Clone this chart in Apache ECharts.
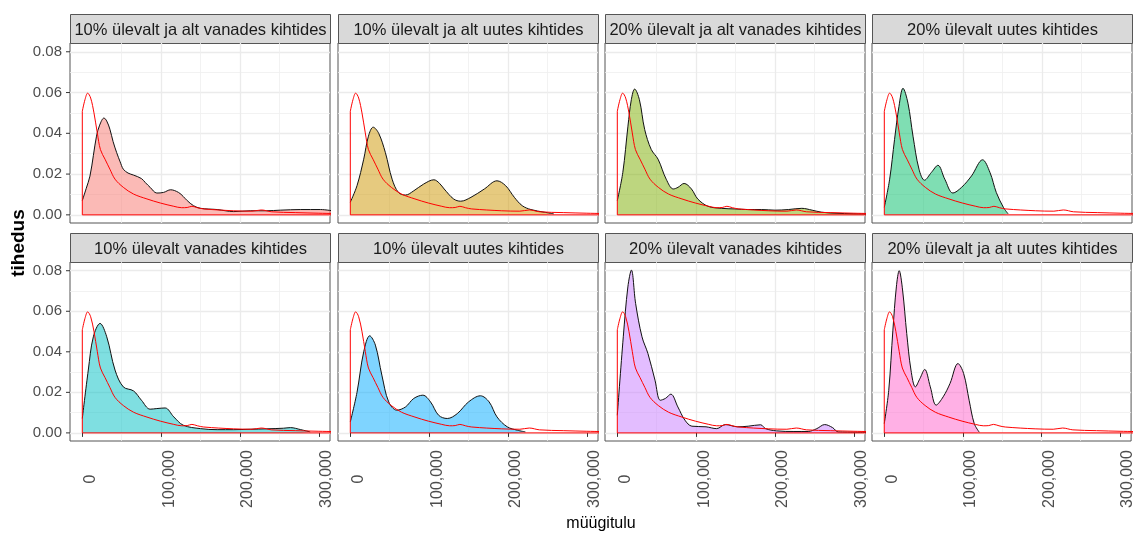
<!DOCTYPE html>
<html><head><meta charset="utf-8">
<script src="https://cdn.jsdelivr.net/npm/echarts@6/dist/echarts.min.js"></script>
<style>html,body{margin:0;padding:0;background:#fff}#c{width:1136px;height:533px}</style>
</head><body><div id="c"></div>
<script>
// ---------- DATA ----------
const panelTitles = [
  "10% ülevalt ja alt vanades kihtides",
  "10% ülevalt ja alt uutes kihtides",
  "20% ülevalt ja alt vanades kihtides",
  "20% ülevalt uutes kihtides",
  "10% ülevalt vanades kihtides",
  "10% ülevalt uutes kihtides",
  "20% ülevalt vanades kihtides",
  "20% ülevalt ja alt uutes kihtides"
];
const xTickValues = [0, 100000, 200000, 300000];
const yTickValues = [0, 0.02, 0.04, 0.06, 0.08];
const xTitle = "müügitulu";
const yTitle = "tihedus";

// reference density (red outline, same in every panel)
const refCurve = [[0,0.0508],[3400,0.0565],[6800,0.0597],[10600,0.0573],[14800,0.050],[19000,0.0402],[23000,0.032],[28800,0.0273],[35000,0.0224],[41500,0.0175],[52000,0.0135],[65000,0.0102],[82000,0.0078],[99000,0.0058],[116000,0.0042],[126000,0.0035],[133000,0.0036],[139000,0.0042],[146000,0.0035],[154000,0.0029],[192000,0.002],[215000,0.0018],[227000,0.0024],[240000,0.0015],[270000,0.0011],[300000,0.0008],[330000,0.0006]];
const refBase = [[0,0.0508],[0,0],[330000,0]];

const dens1 = [[0,0.007],[5000,0.013],[9700,0.019],[14000,0.029],[18000,0.0386],[22000,0.044],[27500,0.0475],[31000,0.046],[35000,0.042],[39000,0.036],[43600,0.0305],[48000,0.026],[52000,0.0224],[58000,0.0205],[65000,0.0195],[75000,0.0178],[80000,0.0158],[86000,0.0135],[94500,0.0107],[103000,0.011],[112000,0.0123],[122000,0.011],[128000,0.009],[133000,0.007],[141000,0.0045],[150000,0.0032],[171000,0.0026],[192000,0.0016],[213000,0.002],[234000,0.002],[251000,0.0023],[277000,0.0026],[302000,0.0026],[320000,0.0018]];
const dens2 = [[0,0.0062],[8500,0.0143],[17000,0.0273],[23000,0.0386],[29000,0.043],[36000,0.040],[44500,0.0305],[53000,0.0175],[61000,0.011],[70000,0.0097],[80500,0.0118],[93000,0.0151],[106000,0.0172],[113000,0.0155],[119000,0.0127],[131000,0.0078],[140000,0.0067],[153000,0.0086],[170000,0.0127],[186000,0.0167],[197000,0.0143],[208000,0.0086],[218000,0.0045],[229000,0.0026],[246000,0.0013],[258000,0.0005]];
const dens3 = [[0,0.007],[7000,0.0208],[13500,0.0435],[17800,0.0565],[22000,0.0617],[28000,0.0565],[34700,0.0419],[43000,0.0321],[51700,0.0273],[62000,0.0175],[71000,0.0127],[77000,0.0135],[84700,0.0154],[94000,0.0127],[102000,0.0078],[115000,0.0042],[132000,0.0032],[149000,0.0029],[166000,0.0026],[183000,0.0026],[200000,0.0023],[217000,0.0026],[234000,0.0032],[247000,0.0023],[259000,0.0013],[276000,0.0008],[300000,0.0005],[320000,0.0004]];
const dens4 = [[0,0.0037],[6800,0.0175],[13000,0.037],[18600,0.0532],[23700,0.0621],[30000,0.0548],[36400,0.0386],[44000,0.0224],[51000,0.017],[59700,0.0208],[68000,0.0243],[76700,0.0175],[87000,0.0107],[98000,0.0135],[110600,0.0191],[124600,0.027],[134000,0.0208],[142000,0.011],[151000,0.0037],[157000,0.0005]];
const dens5 = [[0,0.0071],[7600,0.031],[14000,0.0474],[22500,0.054],[31000,0.0474],[41500,0.031],[52000,0.0227],[65000,0.0207],[75000,0.0161],[86000,0.0117],[94500,0.012],[105000,0.0123],[116000,0.0079],[128000,0.0038],[150000,0.0021],[171000,0.0016],[192000,0.0016],[213000,0.0018],[234000,0.002],[255000,0.0023],[264000,0.0026],[277000,0.0016],[289000,0.0005]];
const dens6 = [[0,0.0054],[8500,0.020],[17000,0.040],[24600,0.0479],[31800,0.0433],[40000,0.0285],[48700,0.0153],[59000,0.0112],[70000,0.0128],[80500,0.017],[92000,0.0186],[101700,0.0153],[112000,0.0087],[123000,0.0071],[135600,0.0095],[150000,0.0153],[165000,0.0183],[176000,0.0153],[186000,0.0079],[199000,0.003],[212000,0.0013],[222000,0.0005]];
const dens7 = [[0,0.0087],[7600,0.0474],[13400,0.072],[17900,0.0803],[23200,0.0639],[31300,0.0474],[38800,0.0392],[47800,0.026],[54500,0.0161],[61000,0.017],[67900,0.0191],[76800,0.0128],[85700,0.0063],[94600,0.0033],[112500,0.003],[126000,0.0021],[137000,0.0041],[152700,0.003],[166000,0.0033],[181700,0.004],[188000,0.0021],[201800,0.001],[224000,0.0007],[242000,0.0007],[253000,0.0021],[263000,0.0041],[273000,0.0026],[280000,0.0005],[320000,0.0003]];
const dens8 = [[0,0.0046],[5700,0.021],[11000,0.0507],[15400,0.072],[19000,0.080],[23300,0.0705],[28600,0.049],[34000,0.031],[39600,0.0227],[45400,0.0268],[51500,0.0313],[58600,0.0227],[66000,0.0137],[75000,0.0178],[83700,0.0244],[93800,0.0342],[101000,0.0293],[108000,0.0161],[114500,0.0046],[121000,0.0003]];
const panelData = [dens1, dens2, dens3, dens4, dens5, dens6, dens7, dens8];

// ---------- STYLE / LAYOUT ----------
const fills = ['#F8766D','#CD9600','#7CAE00','#00BE67','#00BFC4','#00A9FF','#C77CFF','#FF61CC'];
const FONT = '"Liberation Sans", Arial, sans-serif';
const colLeft = [70, 338, 605, 872];
const panelW = 260;
const rowTop = [43, 262];
const rowH = [180, 179];
const stripH = 29;

function hexA(h, a) {
  const r = parseInt(h.slice(1,3),16), g = parseInt(h.slice(3,5),16), b = parseInt(h.slice(5,7),16);
  return `rgba(${r},${g},${b},${a})`;
}

const grids = [], xAxes = [], yAxes = [], series = [], graphics = [];
for (let i = 0; i < 8; i++) {
  const row = Math.floor(i / 4), col = i % 4;
  grids.push({ left: colLeft[col], top: rowTop[row], width: panelW, height: rowH[row],
    show: true, borderColor: '#555', borderWidth: 1, backgroundColor: 'transparent' });
  xAxes.push({
    type: 'value', gridIndex: i, min: -15600, max: 314100, splitNumber: 3,
    axisLine: { show: false },
    axisTick: { show: row === 1, length: 4, lineStyle: { color: '#333' }, customValues: xTickValues },
    axisLabel: { show: row === 1, customValues: xTickValues, rotate: 90, align: 'center', verticalAlign: 'top',
      margin: 38, fontSize: 16, color: '#4D4D4D', fontFamily: FONT,
      formatter: v => Number(v).toLocaleString('en-US') },
    splitLine: { show: true, showMinLine: false, showMaxLine: false, lineStyle: { color: '#EBEBEB', width: 1.3 } },
    minorTick: { show: false, splitNumber: 2 },
    minorSplitLine: { show: true, lineStyle: { color: '#EFEFEF', width: 0.8 } }
  });
  yAxes.push({
    type: 'value', gridIndex: i, min: -0.004, max: 0.0843, splitNumber: 4,
    axisLine: { show: false },
    axisTick: { show: false },
    axisLabel: { show: col === 0, customValues: yTickValues, margin: 0, fontSize: 15, color: '#4D4D4D', fontFamily: FONT,
      formatter: v => Number(v).toFixed(2) + '{g|}{t|}',
      rich: { g: { width: 4, height: 1, verticalAlign: 'middle' },
              t: { width: 4, height: 1, backgroundColor: '#333', verticalAlign: 'middle' } } },
    splitLine: { show: true, showMinLine: false, showMaxLine: false, lineStyle: { color: '#EBEBEB', width: 1.3 } },
    minorTick: { show: false, splitNumber: 2 },
    minorSplitLine: { show: true, lineStyle: { color: '#EFEFEF', width: 0.8 } }
  });
  series.push({
    type: 'line', xAxisIndex: i, yAxisIndex: i, data: panelData[i], smooth: 0.35,
    symbol: 'none', clip: true, silent: true, z: 2,
    lineStyle: { color: '#111', width: 1 },
    areaStyle: { color: hexA(fills[i], 0.5), opacity: 1 }
  });
  series.push({
    type: 'line', xAxisIndex: i, yAxisIndex: i, data: refCurve, smooth: 0.35,
    symbol: 'none', clip: true, silent: true, z: 3,
    lineStyle: { color: '#FF0000', width: 1 }
  });
  series.push({
    type: 'line', xAxisIndex: i, yAxisIndex: i, data: refBase, smooth: false,
    symbol: 'none', clip: true, silent: true, z: 3,
    lineStyle: { color: '#FF0000', width: 1 }
  });
  // strip
  graphics.push({
    type: 'group', left: colLeft[col], top: rowTop[row] - stripH,
    children: [
      { type: 'rect', shape: { x: 0, y: 0, width: panelW, height: stripH },
        style: { fill: '#D9D9D9', stroke: '#555', lineWidth: 1 } },
      { type: 'text', x: panelW / 2, y: stripH / 2 + 1,
        style: { text: panelTitles[i], fill: '#1A1A1A', font: '16.5px ' + FONT, align: 'center', verticalAlign: 'middle' } }
    ]
  });
}
graphics.push({ type: 'text', x: 19, y: 243, rotation: Math.PI / 2,
  style: { text: yTitle, fill: '#000', font: 'bold 19px ' + FONT, align: 'center', verticalAlign: 'middle' } });
graphics.push({ type: 'text', x: 601, y: 524,
  style: { text: xTitle, fill: '#000', font: '16px ' + FONT, align: 'center', verticalAlign: 'middle' } });

const chart = echarts.init(document.getElementById('c'), null, { renderer: 'canvas' });
chart.setOption({
  animation: false,
  backgroundColor: '#fff',
  grid: grids, xAxis: xAxes, yAxis: yAxes, series: series, graphic: graphics
});
</script></body></html>
